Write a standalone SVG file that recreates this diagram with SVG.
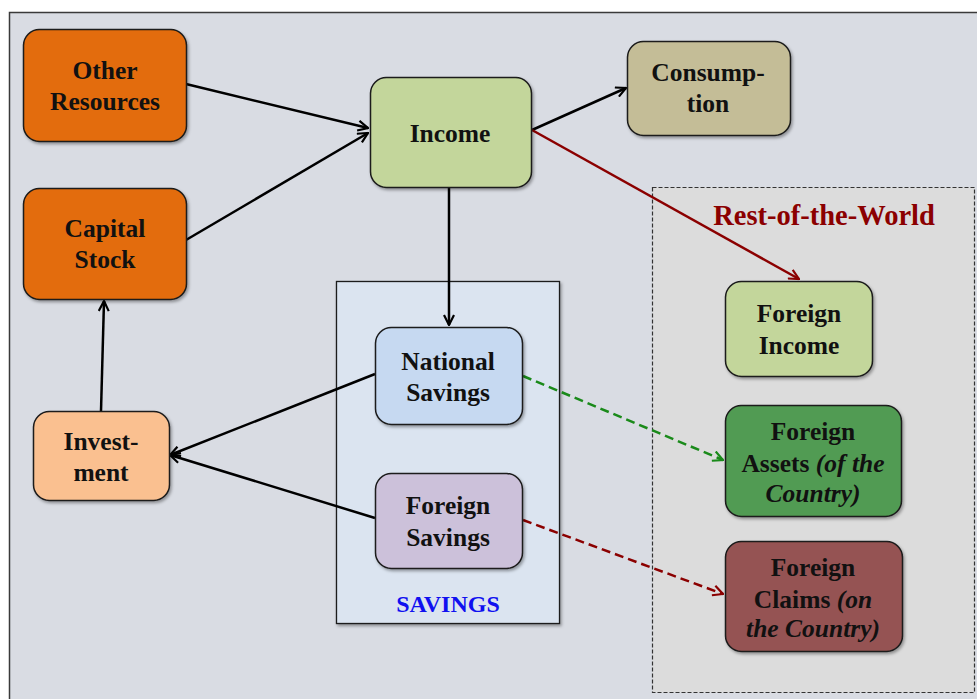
<svg xmlns="http://www.w3.org/2000/svg" width="977" height="699" viewBox="0 0 977 699">
  <style>
    .node { stroke: #1a1a1a; stroke-width: 1.5; filter: url(#shadow); }
    .lbl { font-family: "Liberation Serif", "Times New Roman", serif; font-weight: bold; font-size: 25.5px; fill: #111; text-anchor: middle; }
    .it { font-style: italic; }
    .conn { fill: none; stroke-width: 2.5; }
    .blk { stroke: #000; }
    .red { stroke: #8b0000; }
    .grn { stroke: #1a8a1a; stroke-dasharray: 9 5; }
    .rdd { stroke: #8b0000; stroke-dasharray: 9 5; }
  </style>
  <defs>
    <filter id="shadow" x="-10%" y="-10%" width="125%" height="130%">
      <feDropShadow dx="1.5" dy="2" stdDeviation="1.5" flood-color="#000" flood-opacity="0.35"/>
    </filter>
    <marker id="hb" viewBox="0 0 12 12" refX="11" refY="6" markerWidth="12" markerHeight="12" markerUnits="userSpaceOnUse" orient="auto">
      <path d="M1,1 L11,6 L1,11" fill="none" stroke="#000" stroke-width="2.2"/>
    </marker>
    <marker id="hr" viewBox="0 0 12 12" refX="11" refY="6" markerWidth="12" markerHeight="12" markerUnits="userSpaceOnUse" orient="auto">
      <path d="M1,1 L11,6 L1,11" fill="none" stroke="#8b0000" stroke-width="2.2"/>
    </marker>
    <marker id="hg" viewBox="0 0 12 12" refX="11" refY="6" markerWidth="12" markerHeight="12" markerUnits="userSpaceOnUse" orient="auto">
      <path d="M1,1 L11,6 L1,11" fill="none" stroke="#1a8a1a" stroke-width="2.2"/>
    </marker>
  </defs>

  <!-- page -->
  <rect x="0" y="0" width="977" height="699" fill="#ffffff"/>
  <rect x="9.5" y="12.5" width="980" height="700" fill="#d9dce3" stroke="#3a3a3a" stroke-width="1.5"/>

  <!-- groups -->
  <g id="savings-group">
    <rect x="336.5" y="281.5" width="223" height="342" fill="#dbe4f0" stroke="#1a1a1a" stroke-width="1.3" filter="url(#shadow)"/>
    <text x="448" y="612" font-family="Liberation Serif, serif" font-weight="bold" font-size="24" fill="#1010f0" text-anchor="middle">SAVINGS</text>
  </g>
  <g id="rest-of-world">
    <rect x="652.5" y="187.5" width="322" height="505" fill="#dcdcdc" stroke="#333" stroke-width="1.2" stroke-dasharray="4 2"/>
    <text x="824" y="225" font-family="Liberation Serif, serif" font-weight="bold" font-size="28.5" fill="#8b0000" text-anchor="middle">Rest-of-the-World</text>
  </g>

  <!-- connectors -->
  <g id="connectors">
    <line class="conn blk" x1="186" y1="84" x2="368" y2="128" marker-end="url(#hb)"/>
    <line class="conn blk" x1="186" y1="240" x2="368" y2="133" marker-end="url(#hb)"/>
    <line class="conn blk" x1="532" y1="130" x2="626" y2="88" marker-end="url(#hb)"/>
    <line class="conn red" x1="532" y1="130" x2="799" y2="279" marker-end="url(#hr)"/>
    <line class="conn blk" x1="449" y1="188" x2="449" y2="325" marker-end="url(#hb)"/>
    <line class="conn blk" x1="375" y1="374" x2="170" y2="455" marker-end="url(#hb)"/>
    <line class="conn blk" x1="375" y1="518" x2="170" y2="455" marker-end="url(#hb)"/>
    <line class="conn blk" x1="101" y1="411" x2="104" y2="301" marker-end="url(#hb)"/>
    <line class="conn grn" x1="523" y1="376" x2="723" y2="460" marker-end="url(#hg)"/>
    <line class="conn rdd" x1="523" y1="520" x2="723" y2="594" marker-end="url(#hr)"/>
  </g>

  <!-- nodes -->
  <g id="other-resources">
    <rect class="node" x="23.5" y="29.5" width="163" height="112" rx="16" fill="#e36c0a"/>
    <text class="lbl" x="105" y="79">Other</text>
    <text class="lbl" x="105" y="110">Resources</text>
  </g>
  <g id="capital-stock">
    <rect class="node" x="23.5" y="188.5" width="163" height="111" rx="16" fill="#e36c0a"/>
    <text class="lbl" x="105" y="237">Capital</text>
    <text class="lbl" x="105" y="268">Stock</text>
  </g>
  <g id="income">
    <rect class="node" x="370.5" y="77.5" width="161" height="110" rx="16" fill="#c3d69b"/>
    <text class="lbl" x="450" y="142">Income</text>
  </g>
  <g id="consumption">
    <rect class="node" x="627.5" y="41.5" width="163" height="94" rx="16" fill="#c4bd97"/>
    <text class="lbl" x="708" y="81">Consump-</text>
    <text class="lbl" x="708" y="112">tion</text>
  </g>
  <g id="investment">
    <rect class="node" x="33.5" y="411.5" width="136" height="89" rx="16" fill="#fac090"/>
    <text class="lbl" x="101" y="450">Invest-</text>
    <text class="lbl" x="101" y="481">ment</text>
  </g>
  <g id="national-savings">
    <rect class="node" x="375.5" y="327.5" width="147" height="97" rx="16" fill="#c6d9f1"/>
    <text class="lbl" x="448" y="370">National</text>
    <text class="lbl" x="448" y="401">Savings</text>
  </g>
  <g id="foreign-savings">
    <rect class="node" x="375.5" y="473.5" width="147" height="95" rx="16" fill="#ccc1da"/>
    <text class="lbl" x="448" y="514">Foreign</text>
    <text class="lbl" x="448" y="546">Savings</text>
  </g>
  <g id="foreign-income">
    <rect class="node" x="725.5" y="281.5" width="147" height="95" rx="16" fill="#c3d69b"/>
    <text class="lbl" x="799" y="322">Foreign</text>
    <text class="lbl" x="799" y="354">Income</text>
  </g>
  <g id="foreign-assets">
    <rect class="node" x="725.5" y="405.5" width="176" height="111" rx="16" fill="#519b52"/>
    <text class="lbl" x="813" y="440">Foreign</text>
    <text class="lbl" x="813" y="472">Assets <tspan class="it">(of the</tspan></text>
    <text class="lbl it" x="813" y="502">Country)</text>
  </g>
  <g id="foreign-claims">
    <rect class="node" x="725.5" y="541.5" width="177" height="110" rx="16" fill="#955352"/>
    <text class="lbl" x="813" y="576">Foreign</text>
    <text class="lbl" x="813" y="608">Claims <tspan class="it">(on</tspan></text>
    <text class="lbl it" x="813" y="637">the Country)</text>
  </g>
</svg>
